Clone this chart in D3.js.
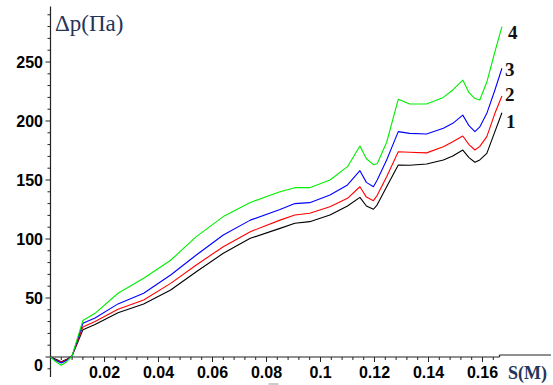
<!DOCTYPE html>
<html>
<head>
<meta charset="utf-8">
<script src="https://cdn.jsdelivr.net/npm/d3@7"></script>
<style>
  html, body { margin: 0; padding: 0; background: #fff; }
  svg { display: block; }
  .tick-label { font-family: "Liberation Sans", Arial, sans-serif; font-weight: bold; font-size: 16px; fill: #000; }
</style>
</head>
<body>
<svg id="chart" width="553" height="385"></svg>
<script>
// Distance along the path, m
const s = [0, 0.002, 0.004, 0.006, 0.008, 0.012, 0.0165, 0.025, 0.0345, 0.0445,
           0.054, 0.064, 0.074, 0.085, 0.0905, 0.096, 0.1035, 0.11, 0.1146, 0.117,
           0.1196, 0.121, 0.1245, 0.1288, 0.133, 0.1393, 0.1455, 0.149, 0.1527, 0.155,
           0.1572, 0.159, 0.1616, 0.1646, 0.1672];

// Pressure drop, Pa, for the four cases
const dp1 = [0, -2, -4, -2, 1, 23, 27.5, 37.5, 45, 56.8,
             72.3, 87.9, 100.6, 109, 113.3, 114.7, 120.3, 128, 135.3, 128,
             125.2, 129, 144.3, 162.7, 162.5, 163.6, 167, 170.3, 175.4, 169,
             165, 167, 172.6, 191, 207];
const dp2 = [0, -2.5, -4.5, -2.5, 1, 25.5, 30, 40.4, 48.3, 62.4,
             78, 93.5, 106.2, 116, 120.3, 121.8, 127.4, 134.5, 144.3, 135.5,
             132.5, 137, 152.8, 174, 173.5, 173, 178.2, 182.5, 187.3, 180,
             175.4, 178.5, 186.7, 206.5, 221.2];
const dp3 = [0, -3, -5, -3, 1, 28.5, 33, 45, 54, 69.5,
             86.4, 103.4, 116, 125, 130, 130.8, 137.3, 145.8, 157.9, 148,
             144.3, 150, 167, 191, 189.5, 189, 193.8, 198, 205, 196,
             191, 195, 206.5, 226.3, 244.7];
const dp4 = [0, -4, -7, -4, 1, 31, 37, 54, 66.7, 82,
             102, 119, 131, 140, 143.5, 143.5, 150, 161.3, 178.8, 168,
             163, 163.8, 182, 218.4, 214.4, 214.4, 220, 226.3, 234.7, 224,
             219, 217.8, 233, 258.7, 280];

const seriesNames = ["1", "2", "3", "4"];
const seriesColors = ["#000000", "#ff0000", "#0000ff", "#00ee00"];
const seriesValues = [dp1, dp2, dp3, dp4];

const xTickValues = [0.02, 0.04, 0.06, 0.08, 0.1, 0.12, 0.14, 0.16];
const xTickLabels = ["0.02", "0.04", "0.06", "0.08", "0.1", "0.12", "0.14", "0.16"];
const yTickValues = [0, 50, 100, 150, 200, 250];
const yTickLabels = ["0", "50", "100", "150", "200", "250"];

const svg = d3.select("#chart");

const x = d3.scaleLinear().domain([0, 0.16]).range([50.5, 482.5]);
const y = d3.scaleLinear().domain([0, 250]).range([357, 62]);

const yMin = -17, yMax = 297;
const xMax = 0.1663;

// Axes lines
const axes = svg.append("g").attr("stroke", "#222").attr("stroke-width", 1.2).attr("fill", "none");
axes.append("line")
  .attr("x1", x(0)).attr("x2", x(0))
  .attr("y1", y(yMin)).attr("y2", y(yMax));
axes.append("line")
  .attr("x1", x(0)).attr("x2", x(xMax))
  .attr("y1", y(0)).attr("y2", y(0));
axes.append("line")
  .attr("x1", x(xMax)).attr("x2", 551)
  .attr("y1", y(0) - 2).attr("y2", y(0) - 2);
axes.append("line")
  .attr("x1", x(xMax)).attr("x2", x(xMax))
  .attr("y1", y(0)).attr("y2", y(0) - 2);

// Y ticks: minor every 10, major every 50
const yMinor = d3.range(-10, yMax, 10);
svg.append("g").selectAll("line").data(yMinor).join("line")
  .attr("x1", x(0)).attr("x2", d => x(0) - (d % 50 === 0 ? 5 : 3))
  .attr("y1", d => y(d)).attr("y2", d => y(d))
  .attr("stroke", "#222").attr("stroke-width", 1);

// X ticks: minor every 0.004, major every 0.02
const xMinor = d3.range(1, 42).map(i => i * 0.004);
svg.append("g").selectAll("line").data(xMinor).join("line")
  .attr("x1", d => x(d)).attr("x2", d => x(d))
  .attr("y1", y(0)).attr("y2", d => y(0) + (Math.abs(d / 0.02 - Math.round(d / 0.02)) < 1e-6 ? 5 : 3))
  .attr("stroke", "#222").attr("stroke-width", 1);

// Y tick labels
svg.append("g").selectAll("text").data(yTickValues).join("text")
  .attr("class", "tick-label")
  .attr("x", 43)
  .attr("y", d => d === 0 ? y(d) + 14 : y(d) + 6)
  .attr("text-anchor", "end")
  .text((d, i) => yTickLabels[i]);

// X tick labels
svg.append("g").selectAll("text").data(xTickValues).join("text")
  .attr("class", "tick-label")
  .attr("x", d => x(d))
  .attr("y", 377.5)
  .attr("text-anchor", "middle")
  .text((d, i) => xTickLabels[i]);

// small stray mark under the axis
svg.append("line")
  .attr("x1", x(0.08) + 2).attr("x2", x(0.08) + 12)
  .attr("y1", 384).attr("y2", 384)
  .attr("stroke", "#999").attr("stroke-width", 1);

// Curves
const line = d3.line().x(d => x(d[0])).y(d => y(d[1]));
seriesValues.forEach((vals, k) => {
  svg.append("path")
    .datum(s.map((sv, i) => [sv, vals[i]]))
    .attr("fill", "none")
    .attr("stroke", seriesColors[k])
    .attr("stroke-width", 1.1)
    .attr("stroke-linejoin", "round")
    .attr("d", line);
});

// Curve numbers next to the ends
const labelBaselines = [127.5, 101, 75.5, 38.5];
const labelX = [506, 505, 505, 508];
seriesNames.forEach((n, k) => {
  svg.append("text")
    .attr("x", labelX[k]).attr("y", labelBaselines[k])
    .attr("font-family", "'Liberation Serif', 'Times New Roman', serif")
    .attr("font-weight", "bold")
    .attr("font-size", 19)
    .attr("fill", "#111")
    .text(n);
});

// Axis titles
svg.append("text")
  .attr("x", 55).attr("y", 31)
  .attr("font-family", "'Liberation Serif', 'Times New Roman', serif")
  .attr("font-size", 23)
  .attr("fill", "#25345a")
  .text("Δp(Πa)");

svg.append("text")
  .attr("x", 508).attr("y", 379)
  .attr("font-family", "'Liberation Serif', 'Times New Roman', serif")
  .attr("font-weight", "bold")
  .attr("font-size", 18)
  .attr("fill", "#25345a")
  .text("S(M)");
</script>
</body>
</html>
